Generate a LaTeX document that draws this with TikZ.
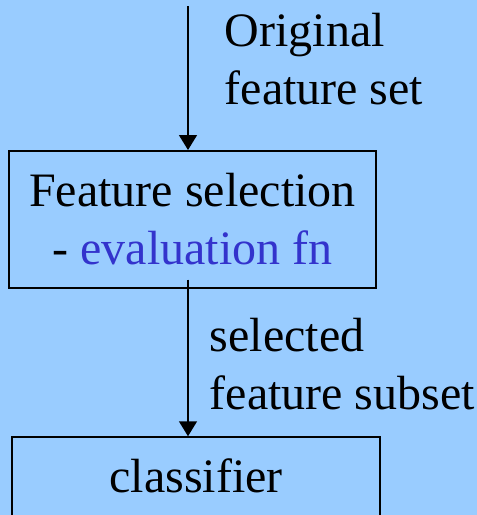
\documentclass[tikz,border=0pt]{standalone}
\usepackage{fontspec}
\setmainfont{Liberation Serif}
\usetikzlibrary{arrows.meta}
\definecolor{slidebg}{HTML}{99CCFF}
\definecolor{fnblue}{HTML}{3333CC}
\begin{document}
\begin{tikzpicture}[x=1pt, y=-1pt, line width=1.5pt,
    box/.style = {draw, rectangle, inner sep=0pt, align=center, font=\rmfamily\fontsize{48}{58}\selectfont},
    flow/.style = {-{Triangle[length=15pt, width=18pt]}},
    lbl/.style = {anchor=north west, inner sep=0pt, align=left, font=\rmfamily\fontsize{48}{58}\selectfont}]
    \fill[slidebg] (0,0) rectangle (477,515);
    \useasboundingbox (0,0) rectangle (477,515);

    \coordinate (src) at (188,6);
    \node[box, anchor=north, minimum width=367pt, minimum height=137pt] (fs) at (192.5,150)
        {Feature selection\\- \textcolor{fnblue}{evaluation fn}};
    \node[box, anchor=base, minimum width=368pt, text height=55pt, text depth=60pt] (clf) at (196,492) {classifier};

    \node[lbl] (orig) at (224,12) {Original\\feature set};
    \node[lbl] (sel) at (209,317) {selected\\feature subset};

    \draw[flow] (src) -- (src |- fs.north);
    \draw[flow] ([yshift=9pt]fs.south -| src) -- (src |- clf.north);
\end{tikzpicture}
\end{document}
